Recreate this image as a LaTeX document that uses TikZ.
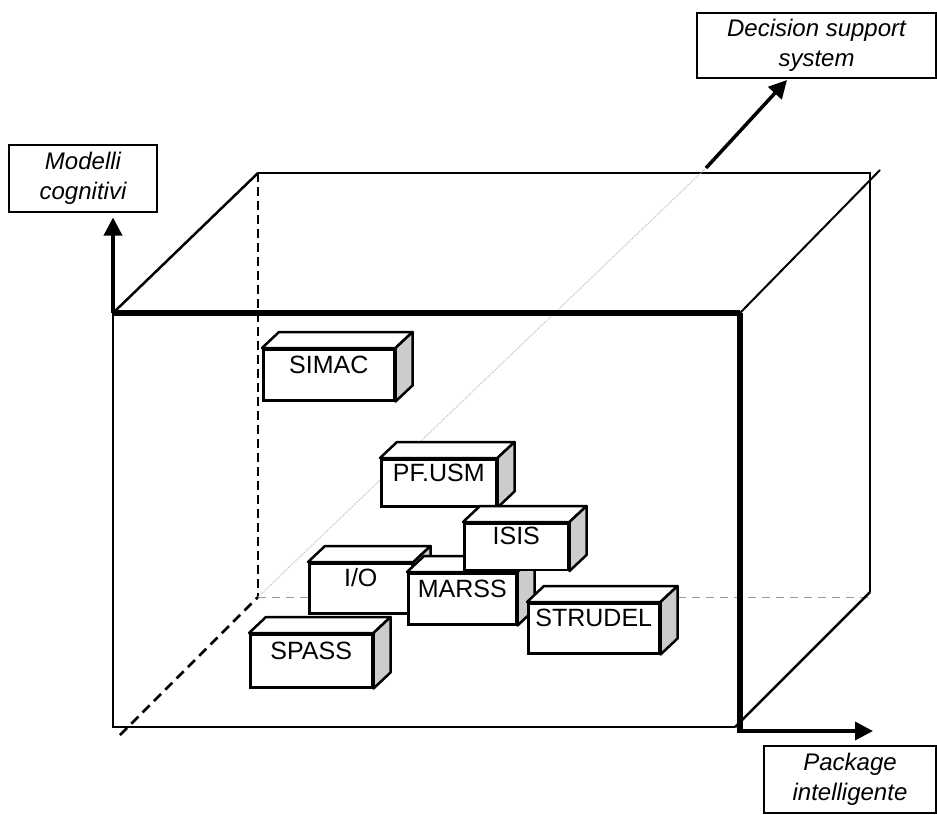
\documentclass[tikz,border=0pt]{standalone}
\usepackage{fontspec}
\setmainfont{Liberation Sans}
\usetikzlibrary{positioning}
\usetikzlibrary{arrows.meta}
\usetikzlibrary{calc}

\tikzset{
  scatola/.style={draw, fill=white, line width=2.5pt, anchor=north west,
    inner xsep=0pt, inner ysep=0pt, text height=21.5pt, text depth=25pt,
    font=\fontsize{25}{28}\selectfont,
    append after command={\pgfextra{
      \draw[line width=2.5pt, fill=white, line join=round]
        (\tikzlastnode.north west) -- ++(17,-16)
        -- ($(\tikzlastnode.north east)+(17,-16)$) -- (\tikzlastnode.north east) -- cycle;
      \draw[line width=2.5pt, fill=black!20, line join=round]
        (\tikzlastnode.north east) -- ++(17,-16)
        -- ($(\tikzlastnode.south east)+(17,-16)$) -- (\tikzlastnode.south east) -- cycle;
    }}},
  etichetta/.style={draw, line width=2pt, align=center, fill=white,
    font=\fontsize{24}{30}\selectfont\itshape},
  asse/.style={line width=3.5pt, -{Triangle[length=18pt,width=18pt]}},
}

\begin{document}
\begin{tikzpicture}[x=1pt, y=-1pt]
\useasboundingbox (0,0) rectangle (937,814);

% spigoli del cubo
\coordinate (ftl) at (113,313);
\coordinate (ftr) at (740,313);
\coordinate (fbl) at (113,727);
\coordinate (fbr) at (735,727);
\coordinate (btl) at (258,173);
\coordinate (btr) at (870,173);
\coordinate (bbr) at (870,592);
\coordinate (bbl) at (258,597);

% faccia posteriore
\draw[line width=2.5pt, dash pattern=on 9pt off 5pt] (btl) -- (bbl);
\draw[line width=1pt, black!40, dash pattern=on 8pt off 6pt] (bbl) -- (bbr |- bbl);
\draw[line width=2.5pt] (btl) -- (btr) -- (bbr);

% diagonali
\draw[line width=2.5pt, dash pattern=on 10pt off 6pt] (120,735) -- (bbl);
\draw[line width=1pt, black!25, densely dotted] (bbl) -- (706,168);
\draw[line width=2.5pt] (ftl) -- (btl);
\draw[line width=2pt] (ftr) -- (880,170);
\draw[line width=2.5pt] (fbr) -- (bbr);

% faccia anteriore
\draw[line width=2.5pt] (ftl) -- (fbl) -- (fbr);
\draw[line width=5.5pt] (ftl) -- (ftr);
\draw[line width=6pt] (ftr) -- (740,733);

% pacchetti
\node[scatola, minimum width=131pt, minimum height=51pt] (simac) at (262,348) {SIMAC};
\node[scatola, minimum width=115pt, minimum height=47pt] (pfusm) at (380,458) {PF.USM};
\node[scatola, minimum width=103pt, minimum height=50pt] (io) at (308,562) {I/O};
\node[scatola, minimum width=108pt, minimum height=51pt] (marss) at (407,572) {MARSS};
\node[scatola, minimum width=104pt, minimum height=46pt] (isis) at (463,522) {ISIS};
\node[scatola, minimum width=131pt, minimum height=50pt] (strudel) at (527,602) {STRUDEL};
\node[scatola, minimum width=122pt, minimum height=53pt] (spass) at (249,633) {SPASS};

% assi
\node[etichetta, minimum width=148pt, minimum height=67pt] (modelli) at (83,178) {Modelli\\cognitivi};
\node[etichetta, minimum width=239pt, minimum height=65pt] (dss) at (816.5,45.5) {Decision support\\system};
\node[etichetta, minimum width=172pt, minimum height=67pt] (pkg) at (850,779) {Package\\intelligente};

\coordinate (dssfrom) at (706,168);
\coordinate (dsstip) at (787,80);
\coordinate (pkgfrom) at (740,731);
\coordinate (pkgtip) at (873,731);

\draw[asse, shorten >=5pt] (ftl) -- (ftl |- modelli.south);
\draw[asse] (dssfrom) -- (dsstip);
\draw[asse] (pkgfrom) -- (pkgtip);
\end{tikzpicture}
\end{document}
